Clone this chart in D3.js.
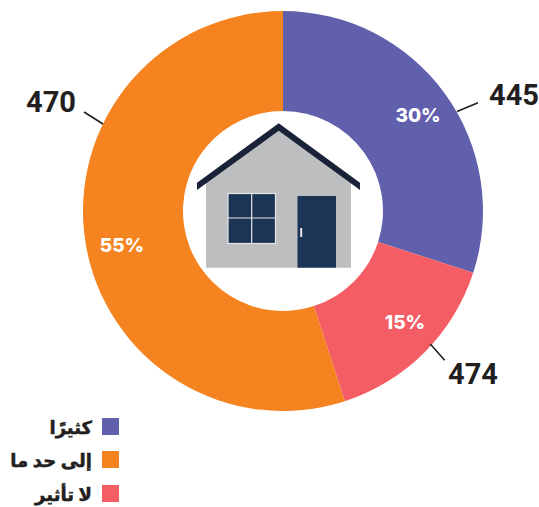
<!DOCTYPE html>
<html><head><meta charset="utf-8">
<script src="https://cdn.jsdelivr.net/npm/d3@7"></script>
<style>html,body{margin:0;padding:0;background:#fff}svg{display:block}text{font-family:"Open Sans","DejaVu Sans",sans-serif}</style>
</head><body><div id="c"></div>
<script>
const categories = ["كثيرًا","إلى حد ما","لا تأثير"];
const percents = [30,55,15];
const drawOrder = [0,2,1];
const counts = [445,470,474];
const colors = ["#6160AC","#F58420","#F45D64"];

const W=539,H=507,cx=283,cy=211,R=200,r=100;
const svg=d3.select("#c").append("svg").attr("width",W).attr("height",H);
const pie=d3.pie().sort(null).value(i=>percents[i]);
const arcs=pie(drawOrder);
const arc=d3.arc().innerRadius(r).outerRadius(R);
const g=svg.append("g").attr("transform",`translate(${cx},${cy})`);
g.selectAll("path.s").data(arcs).join("path").attr("class","s").attr("d",arc).attr("fill",d=>colors[d.data]);

// percentage labels
const labelPos={0:[135,-96],1:[-161,34],2:[122,111]};
g.selectAll("text.p").data(arcs).join("text").attr("class","p")
 .attr("x",d=>labelPos[d.data][0]).attr("y",d=>labelPos[d.data][1])
 .attr("text-anchor","middle").attr("dominant-baseline","central")
 .attr("fill","#fff").attr("font-size",19).attr("font-weight",800)
 .style("font-family","Inter,Roboto,sans-serif")
 .text(d=>percents[d.data]+"%");

// leader lines and counts
const leaders={0:{l:[[457,111.5],[478,102.7]],t:[514,95]},1:{l:[[103,124],[84,112]],t:[51,102]},2:{l:[[430.3,344],[444.7,360.3]],t:[473,374]}};
svg.selectAll("line.l").data(drawOrder).join("line").attr("class","l")
 .attr("x1",i=>leaders[i].l[0][0]).attr("y1",i=>leaders[i].l[0][1])
 .attr("x2",i=>leaders[i].l[1][0]).attr("y2",i=>leaders[i].l[1][1])
 .attr("stroke","#231f20").attr("stroke-width",1.6);
svg.selectAll("text.n").data(drawOrder).join("text").attr("class","n")
 .attr("x",i=>leaders[i].t[0]).attr("y",i=>leaders[i].t[1])
 .attr("text-anchor","middle").attr("dominant-baseline","central")
 .attr("fill","#231f20").attr("font-size",29).attr("font-weight",700)
 .style("font-family","Roboto,sans-serif")
 .text(i=>counts[i]);

// house
const h=svg.append("g");
h.append("path").attr("d","M206,267.7V180L279,128L351,180V267.7Z").attr("fill","#BCBEC0");
h.append("path").attr("d","M197,182.7L278.7,123.3L360,182.7V190L278.7,130.7L197,190Z").attr("fill","#1A2238");
h.append("rect").attr("x",297.5).attr("y",196).attr("width",38.5).attr("height",71.7).attr("fill","#1C3557");
h.append("rect").attr("x",300.2).attr("y",228).attr("width",2).attr("height",9).attr("fill","#E6E7E8");
h.append("rect").attr("x",228).attr("y",193.5).attr("width",47.5).attr("height",50).attr("fill","#1C3557").attr("stroke","#E6E7E8").attr("stroke-width",1.2);
h.append("line").attr("x1",251.7).attr("x2",251.7).attr("y1",193.5).attr("y2",243.5).attr("stroke","#E6E7E8").attr("stroke-width",1.2);
h.append("line").attr("x1",228).attr("x2",275.5).attr("y1",218).attr("y2",218).attr("stroke","#E6E7E8").attr("stroke-width",1.2);

// legend
const legendY=[426.5,459.5,493.5];
const lg=svg.append("g");
lg.selectAll("rect").data(categories).join("rect")
 .attr("x",102).attr("y",(d,i)=>legendY[i]-8.5).attr("width",17).attr("height",17).attr("fill",(d,i)=>colors[i]);
lg.selectAll("text").data(categories).join("text")
 .attr("x",92).attr("y",(d,i)=>legendY[i]).attr("dominant-baseline","central")
 .attr("fill","#231f20").attr("stroke","#231f20").attr("stroke-width",0.5).attr("font-size",18).attr("font-weight",700)
 .style("direction","rtl").attr("text-anchor","start").text(d=>d);
</script></body></html>
